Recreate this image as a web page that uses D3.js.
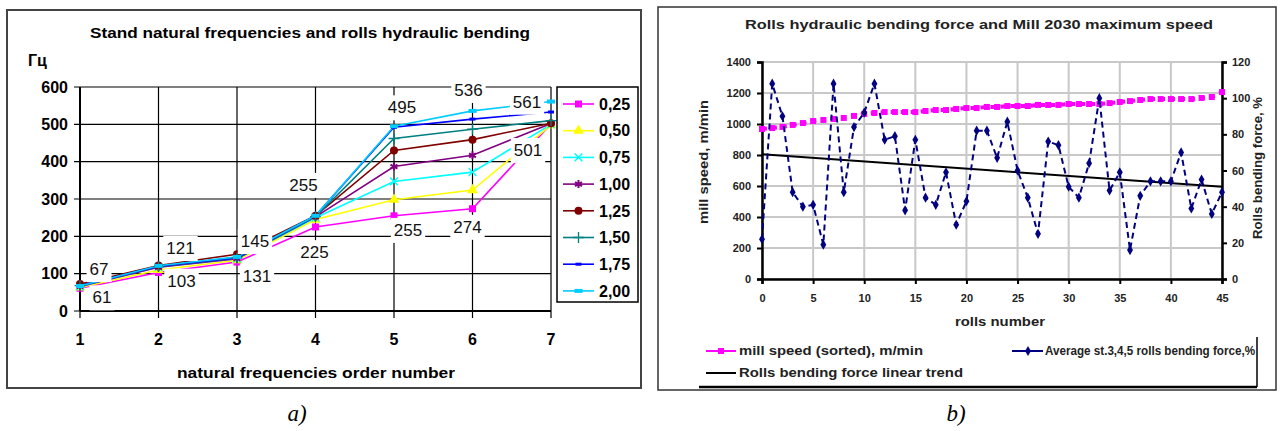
<!DOCTYPE html>
<html>
<head>
<meta charset="utf-8">
<script src="https://cdn.jsdelivr.net/npm/d3@7"></script>
<style>
body { margin: 0; background: #fff; }
text { font-family: 'Liberation Sans', Arial, sans-serif; }
</style>
</head>
<body>
<svg id="fig"></svg>
<script>
// ---- chart a) data ----
var orders = [1, 2, 3, 4, 5, 6, 7];
var bendNames = ['0,25', '0,50', '0,75', '1,00', '1,25', '1,50', '1,75', '2,00'];
var f025 = [61, 103, 131, 225, 255, 274, 501];
var f050 = [63, 110, 136, 245, 298, 324, 498];
var f075 = [66, 118, 140, 250, 347, 372, 500];
var f100 = [66, 117, 140, 252, 387, 417, 502];
var f125 = [72, 122, 152, 255, 430, 459, 503];
var f150 = [68, 119, 142, 253, 462, 487, 510];
var f175 = [68, 120, 143, 255, 492, 514, 533];
var f200 = [67, 121, 145, 255, 495, 536, 561];
var freqTicks = [0, 100, 200, 300, 400, 500, 600];

// ---- chart b) data ----
var rolls = d3.range(0, 46);
var millSpeed = [968, 974, 981, 994, 1006, 1019, 1026, 1032, 1039, 1052,
  1065, 1071, 1077, 1077, 1077, 1077, 1084, 1090, 1090, 1097,
  1103, 1103, 1110, 1110, 1116, 1116, 1116, 1123, 1123, 1123,
  1129, 1129, 1129, 1129, 1135, 1142, 1148, 1155, 1161, 1161,
  1161, 1161, 1161, 1168, 1174, 1206];
var bendForce = [22, 108, 90, 48, 40, 41, 19, 108, 48, 84,
  92, 108, 77, 79, 38, 77, 45, 41, 59, 30,
  43, 82, 82, 67, 87, 60, 45, 25, 76, 74,
  51, 45, 64, 100, 49, 59, 16, 46, 54, 54,
  54, 70, 39, 55, 36, 48];
var trendRolls = [0, 45];
var trendForce = [69, 51];
var speedTicks = [0, 200, 400, 600, 800, 1000, 1200, 1400];
var forceTicks = [0, 20, 40, 60, 80, 100, 120];
var rollTicks = [0, 5, 10, 15, 20, 25, 30, 35, 40, 45];

var W = 1281, H = 431;
var svg = d3.select('#fig').attr('width', W).attr('height', H);

// =================== chart a) ===================
var x = d3.scaleLinear().domain([1, 7]).range([80, 551]);
var y = d3.scaleLinear().domain([0, 600]).range([311, 87]);

svg.append('rect').attr('x', 7).attr('y', 10).attr('width', 634).attr('height', 378)
  .attr('fill', 'none').attr('stroke', '#444').attr('stroke-width', 2);

svg.append('text').attr('x', 310).attr('y', 38).attr('text-anchor', 'middle')
  .attr('font-size', 15).attr('font-weight', 'bold')
  .attr('textLength', 440).attr('lengthAdjust', 'spacingAndGlyphs')
  .text('Stand natural frequencies and rolls hydraulic bending');
svg.append('text').attr('x', 28).attr('y', 66).attr('font-size', 16).attr('font-weight', 'bold').text('Гц');

var ga = svg.append('g');
ga.selectAll('.hg').data(freqTicks).enter().append('line')
  .attr('x1', x(1) - 6).attr('x2', x(7))
  .attr('y1', function(d) { return y(d); }).attr('y2', function(d) { return y(d); })
  .attr('stroke', '#000').attr('stroke-width', 1.2);
ga.selectAll('.vg').data(orders).enter().append('line')
  .attr('x1', function(d) { return x(d); }).attr('x2', function(d) { return x(d); })
  .attr('y1', y(600)).attr('y2', y(0) + 7)
  .attr('stroke', '#000').attr('stroke-width', 1.2);
ga.append('line').attr('x1', x(1)).attr('x2', x(1)).attr('y1', y(600)).attr('y2', y(0))
  .attr('stroke', '#000').attr('stroke-width', 2);
ga.append('line').attr('x1', x(1)).attr('x2', x(7)).attr('y1', y(0)).attr('y2', y(0))
  .attr('stroke', '#000').attr('stroke-width', 2);
ga.selectAll('.yl').data(freqTicks).enter().append('text')
  .attr('x', 68).attr('y', function(d) { return y(d); }).attr('dy', '0.36em')
  .attr('text-anchor', 'end').attr('font-size', 16).attr('font-weight', 'bold')
  .text(function(d) { return d; });
ga.selectAll('.xl').data(orders).enter().append('text')
  .attr('x', function(d) { return x(d); }).attr('y', 345)
  .attr('text-anchor', 'middle').attr('font-size', 16).attr('font-weight', 'bold')
  .text(function(d) { return d; });
svg.append('text').attr('x', 316).attr('y', 378).attr('text-anchor', 'middle')
  .attr('font-size', 15).attr('font-weight', 'bold')
  .attr('textLength', 278).attr('lengthAdjust', 'spacingAndGlyphs')
  .text('natural frequencies order number');

var series = [
  { name: bendNames[0], v: f025, color: '#ff00ff', mk: 'square' },
  { name: bendNames[1], v: f050, color: '#ffff00', mk: 'triangle' },
  { name: bendNames[2], v: f075, color: '#00ffff', mk: 'x' },
  { name: bendNames[3], v: f100, color: '#800080', mk: 'star' },
  { name: bendNames[4], v: f125, color: '#800000', mk: 'circle' },
  { name: bendNames[5], v: f150, color: '#008080', mk: 'plus' },
  { name: bendNames[6], v: f175, color: '#0000ff', mk: 'dash' },
  { name: bendNames[7], v: f200, color: '#00ccff', mk: 'bar' }
];

function marker(g, kind, color) {
  if (kind === 'square') {
    g.append('rect').attr('x', -3.5).attr('y', -3.5).attr('width', 7).attr('height', 7).attr('fill', color);
  } else if (kind === 'triangle') {
    g.append('path').attr('d', d3.symbol(d3.symbolTriangle, 50)()).attr('fill', color);
  } else if (kind === 'circle') {
    g.append('circle').attr('r', 4).attr('fill', color);
  } else if (kind === 'x') {
    g.append('path').attr('d', d3.symbol(d3.symbolX, 40)()).attr('fill', 'none').attr('stroke', color).attr('stroke-width', 1.5);
  } else if (kind === 'star') {
    g.append('path').attr('d', d3.symbol(d3.symbolAsterisk, 45)()).attr('fill', 'none').attr('stroke', color).attr('stroke-width', 2);
  } else if (kind === 'plus') {
    g.append('path').attr('d', d3.symbol(d3.symbolPlus, 40)()).attr('fill', 'none').attr('stroke', color).attr('stroke-width', 1.3);
  } else if (kind === 'dash') {
    g.append('rect').attr('x', -3).attr('y', -1.5).attr('width', 6).attr('height', 3).attr('fill', color);
  } else if (kind === 'bar') {
    g.append('rect').attr('x', -4).attr('y', -2).attr('width', 8).attr('height', 4).attr('fill', color);
  }
}

var line = d3.line().x(function(d, i) { return x(orders[i]); }).y(function(d) { return y(d); });
series.forEach(function(s) {
  ga.append('path').attr('d', line(s.v)).attr('fill', 'none')
    .attr('stroke', s.color).attr('stroke-width', 1.6);
});
series.forEach(function(s) {
  s.v.forEach(function(d, i) {
    var g = ga.append('g').attr('transform', 'translate(' + x(orders[i]) + ',' + y(d) + ')');
    marker(g, s.mk, s.color);
  });
});

// data labels: lowest (0,25) and highest (2,00) series, Excel-style opaque boxes
var lowShift = [[22, 9], [23, 8], [20, 14], [-1, 25], [14, 14], [-5, 18], [-23, 26]];
var highShift = [[19, -17], [22, -18], [18, -16], [-12, -31], [8, -19], [-4, -21], [-24, 0]];
function dataLabel(val, ord, sh) {
  var t = ga.append('text').attr('x', x(ord) + sh[0]).attr('y', y(val) + sh[1]).attr('dy', '0.36em')
    .attr('text-anchor', 'middle').attr('font-size', 17).attr('fill', '#111').text(val);
  var b = t.node().getBBox();
  ga.insert('rect', function() { return t.node(); })
    .attr('x', b.x - 3).attr('y', b.y - 3).attr('width', b.width + 6).attr('height', b.height + 6)
    .attr('fill', '#fff');
}
f025.forEach(function(d, i) { dataLabel(d, orders[i], lowShift[i]); });
f200.forEach(function(d, i) { dataLabel(d, orders[i], highShift[i]); });

// legend a)
var lg = svg.append('g');
lg.append('rect').attr('x', 557).attr('y', 87).attr('width', 81).attr('height', 215)
  .attr('fill', '#fff').attr('stroke', '#000').attr('stroke-width', 1.5);
series.forEach(function(s, i) {
  var yy = 104 + i * 26.7;
  lg.append('line').attr('x1', 563).attr('x2', 594).attr('y1', yy).attr('y2', yy)
    .attr('stroke', s.color).attr('stroke-width', 1.6);
  marker(lg.append('g').attr('transform', 'translate(578.5,' + yy + ')'), s.mk, s.color);
  lg.append('text').attr('x', 599).attr('y', yy).attr('dy', '0.36em')
    .attr('font-size', 16).attr('font-weight', 'bold').text(s.name);
});

svg.append('text').attr('x', 297).attr('y', 421).attr('text-anchor', 'middle')
  .attr('font-style', 'italic').attr('font-size', 23)
  .style('font-family', "'Liberation Serif', serif").text('a)');

// =================== chart b) ===================
var xr = d3.scaleLinear().domain([0, 45]).range([762, 1222]);
var yl = d3.scaleLinear().domain([0, 1400]).range([279, 62]);
var yr = d3.scaleLinear().domain([0, 120]).range([279, 62]);

svg.append('rect').attr('x', 658).attr('y', 7).attr('width', 618).attr('height', 383)
  .attr('fill', 'none').attr('stroke', '#333').attr('stroke-width', 1.5);

svg.append('text').attr('x', 979).attr('y', 29).attr('text-anchor', 'middle')
  .attr('font-size', 13).attr('font-weight', 'bold').attr('fill', '#222')
  .attr('textLength', 468).attr('lengthAdjust', 'spacingAndGlyphs')
  .text('Rolls hydraulic bending force and Mill 2030 maximum speed');

var gb = svg.append('g');
gb.selectAll('.hg').data(speedTicks).enter().append('line')
  .attr('x1', xr(0)).attr('x2', xr(45))
  .attr('y1', function(d) { return yl(d); }).attr('y2', function(d) { return yl(d); })
  .attr('stroke', '#c8c8c8').attr('stroke-width', 2);
gb.selectAll('.vg').data(rollTicks).enter().append('line')
  .attr('x1', function(d) { return xr(d); }).attr('x2', function(d) { return xr(d); })
  .attr('y1', yl(1400)).attr('y2', yl(0))
  .attr('stroke', '#c8c8c8').attr('stroke-width', 2);

gb.append('g').attr('transform', 'translate(0,' + yl(0) + ')')
  .call(d3.axisBottom(xr).tickValues(rollTicks).tickFormat(d3.format('d')).tickSize(5).tickPadding(10));
gb.append('g').attr('transform', 'translate(' + xr(0) + ',0)')
  .call(d3.axisLeft(yl).tickValues(speedTicks).tickFormat(d3.format('d')).tickSize(5).tickPadding(6));
gb.append('g').attr('transform', 'translate(' + xr(45) + ',0)')
  .call(d3.axisRight(yr).tickValues(forceTicks).tickFormat(d3.format('d')).tickSize(5).tickPadding(5));
gb.selectAll('.domain').attr('stroke', '#000').attr('stroke-width', 2.5);
gb.selectAll('.tick line').attr('stroke', '#000').attr('stroke-width', 2);
gb.selectAll('.tick text').attr('font-size', 11).attr('font-weight', 'bold')
  .attr('fill', '#222').style('font-family', "'Liberation Sans', Arial, sans-serif");

gb.append('text').attr('transform', 'translate(708,162) rotate(-90)').attr('text-anchor', 'middle')
  .attr('font-size', 12).attr('font-weight', 'bold').attr('fill', '#222')
  .attr('textLength', 124).attr('lengthAdjust', 'spacingAndGlyphs').text('mill speed, m/min');
gb.append('text').attr('transform', 'translate(1262,168) rotate(-90)').attr('text-anchor', 'middle')
  .attr('font-size', 12).attr('font-weight', 'bold').attr('fill', '#222')
  .attr('textLength', 142).attr('lengthAdjust', 'spacingAndGlyphs').text('Rolls bending force, %');
gb.append('text').attr('x', 1000).attr('y', 326).attr('text-anchor', 'middle')
  .attr('font-size', 12).attr('font-weight', 'bold').attr('fill', '#222')
  .attr('textLength', 90).attr('lengthAdjust', 'spacingAndGlyphs').text('rolls number');

// mill speed (left axis)
var speedLine = d3.line().x(function(d, i) { return xr(rolls[i]); }).y(function(d) { return yl(d); });
gb.append('path').attr('d', speedLine(millSpeed)).attr('fill', 'none')
  .attr('stroke', '#ff00ff').attr('stroke-width', 4).attr('stroke-dasharray', '5,5');
gb.selectAll('.sp').data(millSpeed).enter().append('rect')
  .attr('x', function(d, i) { return xr(rolls[i]) - 3; })
  .attr('y', function(d) { return yl(d) - 3; })
  .attr('width', 6).attr('height', 6).attr('fill', '#ff00ff');

// trend (right axis)
var trendLine = d3.line().x(function(d, i) { return xr(trendRolls[i]); }).y(function(d) { return yr(d); });
gb.append('path').attr('d', trendLine(trendForce)).attr('fill', 'none')
  .attr('stroke', '#000').attr('stroke-width', 2);

// bending force (right axis)
var forceLine = d3.line().x(function(d, i) { return xr(rolls[i]); }).y(function(d) { return yr(d); });
gb.append('path').attr('d', forceLine(bendForce)).attr('fill', 'none')
  .attr('stroke', '#000080').attr('stroke-width', 2).attr('stroke-dasharray', '6,4');
gb.selectAll('.bf').data(bendForce).enter().append('path')
  .attr('transform', function(d, i) { return 'translate(' + xr(rolls[i]) + ',' + yr(d) + ')'; })
  .attr('d', d3.symbol(d3.symbolDiamond, 30)())
  .attr('fill', '#000080');

// legend b)
var lb = svg.append('g');
lb.append('line').attr('x1', 699).attr('x2', 1257).attr('y1', 387).attr('y2', 387)
  .attr('stroke', '#000').attr('stroke-width', 2.5);
lb.append('line').attr('x1', 1257).attr('x2', 1257).attr('y1', 337).attr('y2', 387)
  .attr('stroke', '#000').attr('stroke-width', 1.5);
lb.append('line').attr('x1', 706).attr('x2', 736).attr('y1', 351).attr('y2', 351)
  .attr('stroke', '#ff00ff').attr('stroke-width', 2);
lb.append('rect').attr('x', 718).attr('y', 348).attr('width', 6).attr('height', 6).attr('fill', '#ff00ff');
lb.append('text').attr('x', 739).attr('y', 355).attr('font-size', 12).attr('font-weight', 'bold')
  .attr('fill', '#222').attr('textLength', 184).attr('lengthAdjust', 'spacingAndGlyphs')
  .text('mill speed (sorted), m/min');
lb.append('line').attr('x1', 1012).attr('x2', 1043).attr('y1', 351).attr('y2', 351)
  .attr('stroke', '#000080').attr('stroke-width', 2);
lb.append('path').attr('transform', 'translate(1028,351)').attr('d', d3.symbol(d3.symbolDiamond, 30)())
  .attr('fill', '#000080');
lb.append('text').attr('x', 1045).attr('y', 355).attr('font-size', 12).attr('font-weight', 'bold')
  .attr('fill', '#222').attr('textLength', 210).attr('lengthAdjust', 'spacingAndGlyphs')
  .text('Average st.3,4,5 rolls bending force,%');
lb.append('line').attr('x1', 706).attr('x2', 736).attr('y1', 373).attr('y2', 373)
  .attr('stroke', '#000').attr('stroke-width', 2);
lb.append('text').attr('x', 739).attr('y', 377).attr('font-size', 12).attr('font-weight', 'bold')
  .attr('fill', '#222').attr('textLength', 224).attr('lengthAdjust', 'spacingAndGlyphs')
  .text('Rolls bending force linear trend');

svg.append('text').attr('x', 956).attr('y', 421).attr('text-anchor', 'middle')
  .attr('font-style', 'italic').attr('font-size', 23)
  .style('font-family', "'Liberation Serif', serif").text('b)');
</script>
</body>
</html>
